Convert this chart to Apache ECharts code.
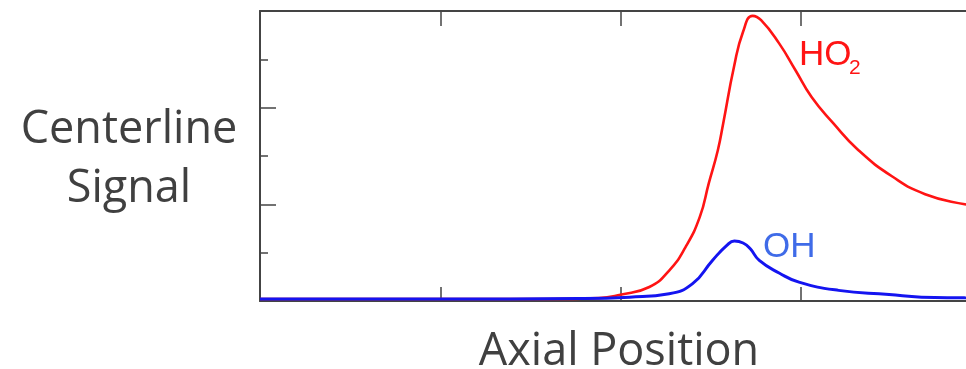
<!DOCTYPE html>
<html>
<head>
<meta charset="utf-8">
<script src="https://cdn.jsdelivr.net/npm/echarts@6/dist/echarts.min.js"></script>
<style>
  html, body { margin: 0; padding: 0; background: #fff; overflow: hidden; }
  #main { width: 1000px; height: 369px; }
</style>
</head>
<body>
<div id="main"></div>
<script>
// data (x in axial units, y in signal units)
var ho2X = [0, 1.0, 1.6, 1.88, 2.0, 2.16, 2.27, 2.36, 2.44, 2.49, 2.54, 2.57, 2.63, 2.68, 2.733, 2.78, 2.88, 2.97, 3.06, 3.18, 3.32, 3.51, 3.69, 3.91, 4.0];
var ho2Y = [0.04, 0.04, 0.04, 0.06, 0.13, 0.29, 0.63, 1.11, 1.74, 2.44, 3.12, 3.68, 4.85, 5.57, 5.90, 5.81, 5.33, 4.78, 4.22, 3.68, 3.12, 2.57, 2.21, 2.0, 1.96];
var ohX = [0, 1.0, 1.77, 2.05, 2.27, 2.40, 2.51, 2.59, 2.632, 2.68, 2.72, 2.77, 2.88, 2.99, 3.21, 3.49, 3.67, 3.91, 4.0];
var ohY = [0.04, 0.04, 0.05, 0.08, 0.15, 0.36, 0.84, 1.15, 1.24, 1.20, 1.08, 0.84, 0.58, 0.39, 0.22, 0.135, 0.08, 0.065, 0.06];

function pairs(xs, ys) {
  return xs.map(function (x, i) { return [x, ys[i]]; });
}

var chart = echarts.init(document.getElementById('main'));
var axisColor = '#444';
var option = {
  animation: false,
  // the plot runs past the right edge of the window, like the cropped original
  grid: { left: 260, right: 19, top: 11, bottom: 68 },
  xAxis: [{
    type: 'value', min: 0, max: 4, interval: 1, position: 'bottom',
    axisLine: { show: true, lineStyle: { color: axisColor, width: 2 } },
    axisTick: { show: true, inside: true, length: 14, lineStyle: { color: axisColor, width: 1.5 } },
    axisLabel: { show: false },
    splitLine: { show: false }
  }, {
    type: 'value', min: 0, max: 4, interval: 1, position: 'top',
    axisLine: { show: true, onZero: false, lineStyle: { color: axisColor, width: 2 } },
    axisTick: { show: true, inside: true, length: 15, lineStyle: { color: axisColor, width: 1.5 } },
    axisLabel: { show: false },
    splitLine: { show: false }
  }],
  yAxis: {
    type: 'value', min: 0, max: 6, interval: 2,
    axisLine: { show: true, lineStyle: { color: axisColor, width: 2 } },
    axisTick: { show: true, inside: true, length: 16, lineStyle: { color: axisColor, width: 1.5 } },
    minorTick: { show: true, splitNumber: 2, length: 8, lineStyle: { color: axisColor, width: 1.5 } },
    axisLabel: { show: false },
    splitLine: { show: false }
  },
  series: [{
    name: 'HO2', type: 'line', xAxisIndex: 0,
    data: pairs(ho2X, ho2Y),
    showSymbol: false, smooth: 0.5,
    lineStyle: { color: '#ff1414', width: 2.6 }
  }, {
    name: 'OH', type: 'line', xAxisIndex: 0,
    data: pairs(ohX, ohY),
    showSymbol: false, smooth: 0.5,
    lineStyle: { color: '#1414f0', width: 3 }
  }],
  graphic: [
    { type: 'text', x: 129, y: 108, style: { text: 'Centerline', font: '45px "Open Sans"', fill: '#404040', align: 'center', verticalAlign: 'top' } },
    { type: 'text', x: 129, y: 167, style: { text: 'Signal', font: '45px "Open Sans"', fill: '#404040', align: 'center', verticalAlign: 'top' } },
    { type: 'text', x: 619, y: 330, style: { text: 'Axial Position', font: '45px "Open Sans"', fill: '#404040', align: 'center', verticalAlign: 'top' } },
    { type: 'text', x: 799, y: 38, style: { text: 'HO', font: '35px "Liberation Sans"', fill: '#ff1414', align: 'left', verticalAlign: 'top' } },
    { type: 'text', x: 849, y: 58, style: { text: '2', font: '21px "Liberation Sans"', fill: '#ff1414', align: 'left', verticalAlign: 'top' } },
    { type: 'text', x: 763, y: 230, style: { text: 'OH', font: '35px "Liberation Sans"', fill: '#3f6be8', align: 'left', verticalAlign: 'top' } }
  ]
};
chart.setOption(option);
</script>
</body>
</html>
